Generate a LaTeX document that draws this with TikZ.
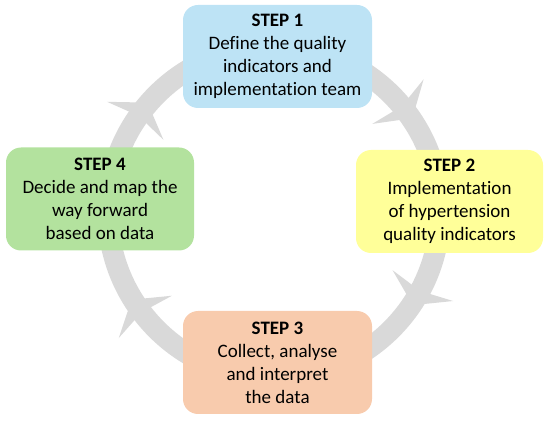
\documentclass[tikz,border=0pt]{standalone}
\usepackage{fontspec}
\setmainfont{Carlito}[Ligatures=CommonOff]
\definecolor{ringgrey}{HTML}{D9D9D9}
\definecolor{boxblue}{HTML}{BDE3F5}
\definecolor{boxyellow}{HTML}{FFFF99}
\definecolor{boxorange}{HTML}{F8CBAD}
\definecolor{boxgreen}{HTML}{B3E29E}
\tikzset{
  stepbox/.style={rounded corners=15pt, minimum width=189pt, minimum height=103pt,
    align=center, inner sep=0pt, font=\fontsize{19}{23}\selectfont, text=black},
  ring/.style={draw=ringgrey, line width=21pt},
  barb/.style={fill=ringgrey}
}
\begin{document}
\begin{tikzpicture}[x=1pt,y=1pt]
\useasboundingbox (0,0) rectangle (550,421);
\coordinate (c) at (274,209);
\draw[ring] (c) circle[radius=166];
\foreach \a in {146,41,-27,-141.5}{
  \fill[barb, shift={(c)}, rotate=\a] (200,2) -- (166,-20) -- (132,2) -- (166,-4) -- cycle;
}
\node[stepbox, fill=boxblue] (s1) at (277.5,364.5) {\textbf{STEP 1}\\Define the quality\\indicators and\\implementation team};
\node[stepbox, fill=boxyellow, minimum width=187pt] (s2) at (449.5,219.5) {\textbf{STEP 2}\\Implementation\\of hypertension\\quality indicators};
\node[stepbox, fill=boxorange] (s3) at (277.5,58.5) {\textbf{STEP 3}\\Collect, analyse\\and interpret\\the data};
\node[stepbox, fill=boxgreen, minimum width=188pt] (s4) at (100,222) {\textbf{STEP 4}\\Decide and map the\\way forward\\based on data};
\end{tikzpicture}
\end{document}
